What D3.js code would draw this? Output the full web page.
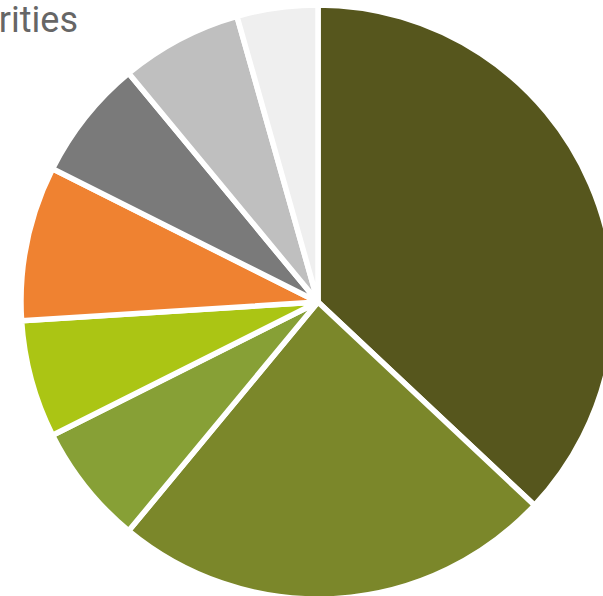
<!DOCTYPE html>
<html>
<head>
<meta charset="utf-8">
<script src="https://cdn.jsdelivr.net/npm/d3@7"></script>
<style>
  body { margin: 0; background: #fff; }
  svg { display: block; }
</style>
</head>
<body>
<svg id="chart" width="603" height="596"></svg>
<script>
// Slice data, clockwise from 12 o'clock
const categories = ["A", "B", "C", "D", "E", "F", "G", "H"];
const values = [37, 24, 6.6, 6.4, 8.4, 6.6, 6.6, 4.4];
const colors = ["#56561d", "#7b872a", "#87a036", "#abc514", "#ef8231", "#7a7a7a", "#bfbfbf", "#efefef"];
const titleText = "Priorities";

const svg = d3.select("#chart");
const cx = 318, cy = 302, radius = 297;

const pie = d3.pie().sort(null).value(d => d.value);
const arc = d3.arc().innerRadius(0).outerRadius(radius);

const data = categories.map((c, i) => ({ name: c, value: values[i], color: colors[i] }));

svg.append("g")
    .attr("transform", `translate(${cx},${cy})`)
  .selectAll("path")
  .data(pie(data))
  .join("path")
    .attr("d", arc)
    .attr("fill", d => d.data.color)
    .attr("stroke", "#fff")
    .attr("stroke-width", 5.5)
    .attr("stroke-linejoin", "round");

// title, cut off at the left edge as in the reference
svg.append("text")
    .attr("x", 78)
    .attr("y", 32)
    .attr("text-anchor", "end")
    .attr("font-family", "Roboto, sans-serif")
    .attr("font-size", 36)
    .attr("fill", "#666")
    .text(titleText);
</script>
</body>
</html>
